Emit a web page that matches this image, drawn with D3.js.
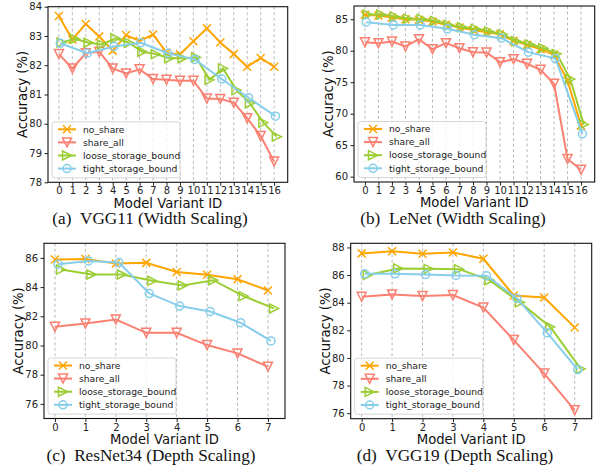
<!DOCTYPE html>
<html>
<head>
<meta charset="utf-8">
<script src="https://cdn.jsdelivr.net/npm/d3@7"></script>
<style>
  body { margin: 0; background: #fff; }
</style>
</head>
<body>
<div id="chart"></div>
<script>
// series
var seriesNames   = ['no_share', 'share_all', 'loose_storage_bound', 'tight_storage_bound'];
var seriesColors  = ['#ffa500', '#fa8072', '#9acd32', '#87ceeb'];
var seriesMarkers = ['x', 'tri_down', 'tri_right', 'circle'];
var seriesShift   = [0, 0, 0.2, 0.1];

// x ids
var widthIds      = [0, 1, 2, 3, 4, 5, 6, 7, 8, 9, 10, 11, 12, 13, 14, 15, 16];
var widthTightIds = [0, 2, 4, 6, 8, 10, 12, 14, 16];
var depthIds      = [0, 1, 2, 3, 4, 5, 6, 7];

// (a) VGG11 width scaling
var vgg11NoShare  = [83.68, 82.88, 83.41, 82.98, 82.50, 83.03, 82.83, 83.05, 82.43, 82.37, 82.82, 83.26, 82.78, 82.38, 81.95, 82.25, 81.95];
var vgg11ShareAll = [82.38, 81.89, 82.41, 82.46, 81.89, 81.72, 81.86, 81.53, 81.50, 81.47, 81.47, 80.86, 80.85, 80.72, 80.19, 79.58, 78.71];
var vgg11Loose    = [82.78, 82.90, 82.77, 82.71, 82.92, 82.77, 82.46, 82.38, 82.24, 82.24, 82.27, 81.50, 81.89, 81.15, 80.70, 80.04, 79.56];
var vgg11Tight    = [82.75, 82.41, 82.64, 82.77, 82.41, 82.20, 81.53, 80.89, 80.26];

// (b) LeNet width scaling
var lenetNoShare  = [85.69, 85.58, 85.26, 85.00, 84.90, 84.63, 84.10, 83.68, 83.30, 82.94, 82.60, 81.56, 80.93, 80.24, 79.34, 75.25, 68.10];
var lenetShareAll = [81.35, 81.20, 81.46, 80.67, 81.83, 80.24, 81.20, 80.40, 79.77, 79.71, 78.18, 78.66, 77.92, 76.97, 74.75, 62.80, 61.10];
var lenetLoose    = [85.74, 85.74, 85.42, 85.10, 85.05, 84.74, 84.10, 83.73, 83.47, 83.04, 82.60, 81.50, 80.98, 80.40, 79.50, 75.49, 68.30];
var lenetTight    = [84.52, 84.10, 84.10, 83.47, 82.52, 81.99, 79.77, 78.76, 66.80];

// (c) ResNet34 depth scaling
var resnetNoShare  = [85.89, 85.93, 85.61, 85.66, 85.04, 84.84, 84.54, 83.77];
var resnetShareAll = [81.28, 81.51, 81.78, 80.87, 80.87, 80.03, 79.46, 78.55];
var resnetLoose    = [85.20, 84.86, 84.86, 84.43, 84.11, 84.47, 83.38, 82.54];
var resnetTight    = [85.57, 85.79, 85.68, 83.56, 82.70, 82.33, 81.56, 80.31];

// (d) VGG19 depth scaling
var vgg19NoShare  = [87.57, 87.73, 87.54, 87.64, 87.18, 84.52, 84.38, 82.21];
var vgg19ShareAll = [84.43, 84.60, 84.48, 84.55, 83.65, 81.29, 78.87, 76.22];
var vgg19Loose    = [86.00, 86.48, 86.45, 86.43, 85.63, 84.02, 82.25, 79.21];
var vgg19Tight    = [86.09, 86.09, 86.04, 85.97, 85.95, 84.31, 81.82, 79.16];

// y ticks
var ticksA = [78, 79, 80, 81, 82, 83, 84];
var ticksB = [60, 65, 70, 75, 80, 85];
var ticksC = [76, 78, 80, 82, 84, 86];
var ticksD = [76, 78, 80, 82, 84, 86, 88];

var captions = ['(a)\u2002VGG11 (Width Scaling)', '(b)\u2002LeNet (Width Scaling)',
                '(c)\u2002ResNet34 (Depth Scaling)', '(d)\u2002VGG19 (Depth Scaling)'];

var W = 605, H = 474;

var panels = [
  { l: 48,  r: 287.7, t: 6.7,   b: 182.3, x: [-0.81, 17.01], y: [78, 84],      yt: ticksA, ids: widthIds, tids: widthTightIds,
    s: [vgg11NoShare, vgg11ShareAll, vgg11Loose, vgg11Tight], cap: captions[0], cx: 150 },
  { l: 354, r: 594.7, t: 6,     b: 182,   x: [-0.81, 17.01], y: [59.15, 87.1], yt: ticksB, ids: widthIds, tids: widthTightIds,
    s: [lenetNoShare, lenetShareAll, lenetLoose, lenetTight], cap: captions[1], cx: 453 },
  { l: 44,  r: 285,   t: 243.3, b: 418.5, x: [-0.36, 7.56],  y: [75, 87],      yt: ticksC, ids: depthIds, tids: depthIds,
    s: [resnetNoShare, resnetShareAll, resnetLoose, resnetTight], cap: captions[2], cx: 151 },
  { l: 350.7, r: 591.7, t: 243.3, b: 418.7, x: [-0.36, 7.56], y: [75.6, 88.3], yt: ticksD, ids: depthIds, tids: depthIds,
    s: [vgg19NoShare, vgg19ShareAll, vgg19Loose, vgg19Tight], cap: captions[3], cx: 455 }
];

var svg = d3.select('#chart').append('svg')
  .attr('width', W).attr('height', H)
  .style('font-family', '"DejaVu Sans", sans-serif');

function markerPath(type) {
  var r = 4.5;
  if (type === 'x') return 'M-4,-4L4,4M-4,4L4,-4';
  if (type === 'tri_down') return 'M0,' + r + 'L' + (-r) + ',' + (-r) + 'L' + r + ',' + (-r) + 'Z';
  if (type === 'tri_right') return 'M' + r + ',0L' + (-r) + ',' + (-r) + 'L' + (-r) + ',' + r + 'Z';
  return d3.arc()({ innerRadius: 0, outerRadius: 4, startAngle: 0, endAngle: 2 * Math.PI });
}

panels.forEach(function (p) {
  var x = d3.scaleLinear().domain(p.x).range([p.l, p.r]);
  var y = d3.scaleLinear().domain(p.y).range([p.b, p.t]);
  var g = svg.append('g');

  // vertical grid
  g.append('g').selectAll('line').data(p.ids).join('line')
    .attr('x1', function (d) { return x(d); }).attr('x2', function (d) { return x(d); })
    .attr('y1', p.t).attr('y2', p.b)
    .attr('stroke', '#a8a8a8').attr('stroke-width', 0.8).attr('stroke-dasharray', '3,2.5');

  // axes
  var xa = g.append('g').attr('transform', 'translate(0,' + p.b + ')')
    .call(d3.axisBottom(x).tickValues(p.ids).tickFormat(d3.format('d')).tickSize(3.5).tickPadding(1.5));
  var ya = g.append('g').attr('transform', 'translate(' + p.l + ',0)')
    .call(d3.axisLeft(y).tickValues(p.yt).tickFormat(d3.format('d')).tickSize(3.5).tickPadding(2.5));
  [xa, ya].forEach(function (a) {
    a.select('.domain').remove();
    a.selectAll('text').attr('font-size', 10).attr('fill', '#222').style('font-family', '"DejaVu Sans", sans-serif');
    a.selectAll('line').attr('stroke', '#222');
  });

  // series
  p.s.forEach(function (vals, k) {
    var xs = (k === 3) ? p.tids : p.ids;
    var pts = vals.map(function (v, i) { return [xs[i] + seriesShift[k], v]; });
    var sg = g.append('g');
    sg.append('path').datum(pts)
      .attr('d', d3.line().x(function (d) { return x(d[0]); }).y(function (d) { return y(d[1]); }))
      .attr('fill', 'none').attr('stroke', seriesColors[k]).attr('stroke-width', 2);
    sg.selectAll('path.m').data(pts).join('path').attr('class', 'm')
      .attr('transform', function (d) { return 'translate(' + x(d[0]) + ',' + y(d[1]) + ')'; })
      .attr('d', markerPath(seriesMarkers[k]))
      .attr('fill', 'none').attr('stroke', seriesColors[k]).attr('stroke-width', 1.5);
  });

  // frame
  g.append('rect').attr('x', p.l).attr('y', p.t).attr('width', p.r - p.l).attr('height', p.b - p.t)
    .attr('fill', 'none').attr('stroke', '#111').attr('stroke-width', 1.1);

  // legend
  var lw = 128, lh = 56;
  var lx = p.l + 4, ly = p.b - 4.5 - lh;
  var lg = g.append('g').attr('transform', 'translate(' + lx + ',' + ly + ')');
  lg.append('rect').attr('width', lw).attr('height', lh).attr('rx', 2.5)
    .attr('fill', 'rgba(255,255,255,0.8)').attr('stroke', '#cccccc').attr('stroke-width', 0.8);
  seriesNames.forEach(function (name, k) {
    var ry = 7.5 + k * 13.1;
    lg.append('line').attr('x1', 6).attr('x2', 24).attr('y1', ry).attr('y2', ry)
      .attr('stroke', seriesColors[k]).attr('stroke-width', 2);
    lg.append('path').attr('transform', 'translate(15,' + ry + ')')
      .attr('d', markerPath(seriesMarkers[k]))
      .attr('fill', 'none').attr('stroke', seriesColors[k]).attr('stroke-width', 1.5);
    lg.append('text').attr('x', 31).attr('y', ry).attr('dy', '0.35em')
      .attr('font-size', 9.2).attr('fill', '#222').text(name);
  });

  // labels
  g.append('text').attr('x', (p.l + p.r) / 2).attr('y', p.b + 25.3)
    .attr('text-anchor', 'middle').attr('font-size', 13.2).attr('fill', '#111').text('Model Variant ID');
  g.append('text').attr('transform', 'translate(' + (p.l - 25.5) + ',' + ((p.t + p.b) / 2) + ') rotate(-90)')
    .attr('text-anchor', 'middle').attr('dy', '0.35em')
    .attr('font-size', 13.2).attr('fill', '#111').text('Accuracy (%)');
  g.append('text').attr('x', p.cx).attr('y', p.b + 42)
    .attr('text-anchor', 'middle').attr('font-size', 17.2).attr('fill', '#111')
    .style('font-family', '"Liberation Serif", "DejaVu Serif", serif')
    .text(p.cap);
});
</script>
</body>
</html>
